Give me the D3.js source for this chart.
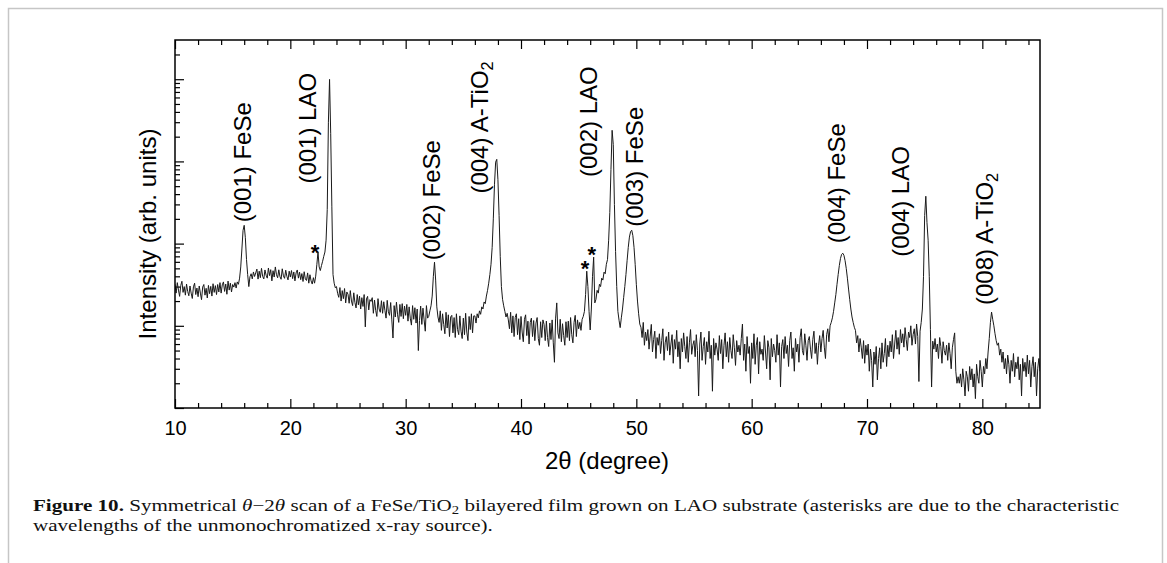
<!DOCTYPE html>
<html>
<head>
<meta charset="utf-8">
<script src="https://cdn.jsdelivr.net/npm/d3@7"></script>
<style>
body { margin: 0; background: #fff; }
svg { display: block; }
</style>
</head>
<body>
<svg id="chart" width="1167" height="563"></svg>
<script>
// scan grid (degrees 2theta) and counts, one row per degree
var scanStart = 10;
var scanStep = 0.1;
var intensity = [
  320, 250, 335, 272, 228, 310, 348, 255, 300, 236,
  322, 262, 232, 305, 250, 215, 298, 330, 240, 288,
  226, 305, 250, 208, 296, 318, 236, 286, 218, 310,
  246, 302, 230, 325, 255, 308, 240, 318, 258, 335,
  250, 315, 342, 262, 322, 242, 350, 272, 330, 258,
  318, 296, 335, 288, 342, 320, 380, 520, 860, 1450,
  1670, 1180, 640, 420, 300, 395, 430, 372, 452, 398,
  440, 490, 370, 462, 385, 500, 400, 372, 478, 412,
  380, 505, 408, 482, 352, 468, 392, 520, 418, 384,
  480, 396, 368, 494, 405, 378, 475, 400, 362, 462,
  392, 470, 375, 452, 352, 440, 478, 380, 450, 364,
  432, 346, 455, 372, 356, 440, 330, 418, 352, 322,
  385, 330, 402, 560, 790, 520, 470, 540, 610, 700,
  790, 1100, 2600, 30000, 99500, 22000, 2800, 420, 330, 290,
  300, 248, 222, 292, 200, 268, 214, 284, 190, 258,
  242, 188, 268, 200, 176, 252, 192, 165, 240, 180,
  230, 160, 220, 172, 240, 97, 212, 228, 156, 208,
  198, 220, 142, 206, 154, 130, 214, 160, 146, 202,
  142, 196, 154, 124, 204, 148, 134, 192, 118, 71,
  176, 128, 194, 136, 110, 182, 130, 186, 122, 174,
  134, 182, 114, 170, 124, 102, 176, 120, 166, 108,
  160, 50, 116, 174, 104, 164, 118, 86, 176, 124,
  130, 152, 175, 230, 400, 594, 360, 170, 128, 110,
  152, 88, 140, 104, 80, 146, 94, 136, 74, 128,
  134, 82, 126, 72, 140, 90, 78, 132, 86, 70,
  124, 78, 142, 84, 66, 130, 90, 140, 82, 132,
  132, 108, 140, 125, 152, 138, 170, 160, 195, 186,
  230, 270, 330, 420, 560, 900, 2000, 5200, 9800, 10600,
  6000, 2200, 700, 300, 210, 175, 150, 128, 142, 118,
  92, 146, 82, 132, 74, 126, 140, 78, 122, 68,
  130, 84, 64, 120, 136, 76, 114, 60, 110, 124,
  74, 116, 66, 108, 126, 70, 58, 112, 72, 118,
  104, 66, 114, 72, 56, 108, 68, 118, 62, 36,
  124, 190, 82, 70, 120, 64, 106, 76, 58, 112,
  72, 114, 66, 126, 78, 62, 110, 134, 74, 118,
  92, 110, 88, 120, 130, 150, 240, 462, 300, 150,
  89, 160, 400, 684, 190, 210, 270, 250, 320, 300,
  380, 360, 450, 430, 560, 640, 1100, 2400, 8000, 23900,
  16000, 3000, 800, 300, 150, 117, 95, 125, 160, 220,
  300, 420, 620, 900, 1200, 1400, 1455, 1250, 900, 560,
  320, 200, 140, 105, 96, 72, 110, 58, 84, 66,
  90, 52, 75, 104, 48, 68, 86, 40, 72, 58,
  80, 46, 66, 92, 38, 62, 74, 50, 84, 44,
  60, 78, 35, 68, 52, 88, 42, 64, 30, 70,
  48, 82, 56, 40, 74, 36, 62, 90, 45, 58,
  66, 42, 78, 50, 14, 60, 84, 38, 56, 72,
  34, 64, 48, 86, 40, 58, 16, 70, 44, 62,
  52, 38, 76, 46, 68, 30, 58, 82, 42, 64,
  36, 72, 50, 40, 78, 54, 33, 66, 48, 58,
  44, 70, 105, 38, 60, 28, 74, 46, 56, 20,
  62, 40, 80, 34, 58, 72, 26, 64, 45, 52,
  38, 76, 48, 30, 66, 54, 22, 70, 42, 60,
  50, 36, 78, 44, 62, 18, 56, 68, 40, 74,
  46, 58, 32, 66, 84, 40, 54, 28, 70, 48,
  60, 36, 72, 92, 50, 44, 80, 58, 38, 66,
  74, 52, 40, 68, 86, 46, 62, 34, 58, 76,
  48, 70, 88, 55, 40, 78, 92, 64, 100, 110,
  125, 150, 190, 240, 320, 420, 540, 660, 740, 764,
  720, 620, 500, 380, 280, 210, 160, 128, 110, 96,
  88, 62, 76, 48, 70, 55, 40, 66, 35, 58,
  44, 60, 28, 52, 38, 18, 48, 34, 56, 22,
  40, 54, 30, 62, 36, 46, 70, 32, 58, 42,
  65, 48, 78, 40, 60, 88, 52, 72, 45, 90,
  62, 80, 55, 95, 68, 50, 84, 72, 100, 58,
  78, 92, 60, 105, 74, 21, 86, 110, 160, 400,
  2200, 3770, 1800, 1100, 400, 90, 18, 65, 52, 70,
  48, 60, 40, 72, 56, 35, 64, 50, 44, 58,
  38, 62, 46, 30, 54, 68, 82, 28, 20, 24,
  20, 26, 18, 30, 22, 14, 28, 24, 16, 32,
  22, 30, 18, 26, 13, 34, 24, 20, 38, 28,
  18, 32, 26, 40, 30, 48, 70, 110, 147, 120,
  100, 80, 66, 58, 62, 44, 52, 36, 48, 30,
  40, 26, 44, 34, 20, 38, 28, 46, 24, 36,
  30, 42, 22, 34, 14, 40, 28, 36, 24, 44,
  26, 38, 18, 32, 42, 24, 36, 14, 30, 40,
  28
];

var xTickValues = [10, 20, 30, 40, 50, 60, 70, 80];
var yDecades = [10, 100, 1000, 10000, 100000];

// peak annotations: text, 2theta of the label, intensity where the text starts
var peakLabels = ["(001) FeSe", "(001) LAO", "(002) FeSe", "(004) A-TiO", "(002) LAO",
                  "(003) FeSe", "(004) FeSe", "(004) LAO", "(008) A-TiO"];
var peakLabelSub = ["", "", "", "2", "", "", "", "", "2"];
var peakLabelAt = [16.07, 21.7, 32.46, 36.6, 46.07, 50.06, 67.57, 73.08, 80.36];
var peakLabelFrom = [1820, 5370, 628, 4060, 6460, 1600, 1010, 690, 179];

// asterisks (characteristic lines of the source)
var starAt = [22.14, 45.55, 46.13];
var starLevel = [912, 573, 848];

var xTitle = "2\u03b8 (degree)";
var yTitle = "Intensity (arb. units)";

var WIDTH = 1167, HEIGHT = 563;
var MARGINS = {top: 40, right: 127, bottom: 155, left: 175};
var sans = '"Liberation Sans", Arial, sans-serif';

var svg = d3.select('#chart');

var x = d3.scaleLinear()
    .domain([10, 85])
    .range([MARGINS.left, WIDTH - MARGINS.right]);
var y = d3.scaleLog()
    .domain([10, 300000])
    .range([HEIGHT - MARGINS.bottom, MARGINS.top]);

var x0 = x.range()[0], x1 = x.range()[1];
var y0 = y.range()[0], y1 = y.range()[1];

// page border, open at the bottom
svg.append('path')
    .attr('d', 'M8.5,' + HEIGHT + 'V8.5H1162.5V' + HEIGHT)
    .attr('fill', 'none')
    .attr('stroke', '#c6c6c6')
    .attr('stroke-width', 1.5);

function styleAxis(g){
    g.select('.domain').remove();
    g.selectAll('.tick line').attr('stroke', '#000').attr('stroke-width', 1.2);
    g.selectAll('text').style('font-family', sans).style('font-size', '20px').attr('fill', '#000');
}

var minorX = d3.range(12, 85, 2).filter(function(d){ return d % 10 !== 0; });
var minorY = [];
yDecades.forEach(function(d){
    for(var k = 2; k <= 9; k++){
        if(d * k < y.domain()[1]) minorY.push(d * k);
    }
});

// bottom
svg.append('g').attr('transform', 'translate(0,' + y0 + ')')
    .call(d3.axisBottom(x).tickValues(xTickValues).tickSizeInner(-9).tickSizeOuter(0)
        .tickPadding(13).tickFormat(d3.format('d')))
    .call(styleAxis);
svg.append('g').attr('transform', 'translate(0,' + y0 + ')')
    .call(d3.axisBottom(x).tickValues(minorX).tickSizeInner(-5).tickSizeOuter(0).tickFormat(''))
    .call(styleAxis);
// top
svg.append('g').attr('transform', 'translate(0,' + y1 + ')')
    .call(d3.axisTop(x).tickValues(xTickValues).tickSizeInner(-9).tickSizeOuter(0).tickFormat(''))
    .call(styleAxis);
svg.append('g').attr('transform', 'translate(0,' + y1 + ')')
    .call(d3.axisTop(x).tickValues(minorX).tickSizeInner(-5).tickSizeOuter(0).tickFormat(''))
    .call(styleAxis);
// left (log, no labels)
svg.append('g').attr('transform', 'translate(' + x0 + ',0)')
    .call(d3.axisLeft(y).tickValues(yDecades).tickSizeInner(-9).tickSizeOuter(0).tickFormat(''))
    .call(styleAxis);
svg.append('g').attr('transform', 'translate(' + x0 + ',0)')
    .call(d3.axisLeft(y).tickValues(minorY).tickSizeInner(-5).tickSizeOuter(0).tickFormat(''))
    .call(styleAxis);

// the scan
var points = intensity.map(function(v, i){
    return {t: scanStart + i * scanStep, v: v};
});
var lineFunc = d3.line()
    .x(function(d){ return x(d.t); })
    .y(function(d){ return y(d.v); });

svg.append('clipPath').attr('id', 'plotClip')
  .append('rect').attr('x', x0).attr('y', y1).attr('width', x1 - x0).attr('height', y0 - y1);

svg.append('path')
    .attr('d', lineFunc(points))
    .attr('clip-path', 'url(#plotClip)')
    .attr('fill', 'none')
    .attr('stroke', '#1a1a1a')
    .attr('stroke-width', 1)
    .attr('stroke-linejoin', 'round');

// frame
svg.append('rect')
    .attr('x', x0).attr('y', y1)
    .attr('width', x1 - x0).attr('height', y0 - y1)
    .attr('fill', 'none')
    .attr('stroke', '#000')
    .attr('stroke-width', 1.5);

// peak labels
peakLabels.forEach(function(lab, i){
    var t = svg.append('text')
        .attr('transform', 'translate(' + x(peakLabelAt[i]) + ',' + y(peakLabelFrom[i]) + ') rotate(-90)')
        .attr('dy', '0.26em')
        .style('font-family', sans)
        .style('font-size', '24px')
        .attr('fill', '#000')
        .text(lab);
    if(peakLabelSub[i]){
        t.append('tspan')
            .attr('dy', '0.3em')
            .style('font-size', '0.68em')
            .text(peakLabelSub[i]);
    }
});

// asterisks
starAt.forEach(function(s, i){
    svg.append('text')
        .attr('x', x(s))
        .attr('y', y(starLevel[i]))
        .attr('dy', '0.58em')
        .attr('text-anchor', 'middle')
        .style('font-family', sans)
        .style('font-size', '22px')
        .style('font-weight', 'bold')
        .attr('fill', '#000')
        .text('*');
});

// axis titles
svg.append('text')
    .attr('x', (x0 + x1) / 2 - 0.5)
    .attr('y', y0 + 61)
    .attr('text-anchor', 'middle')
    .style('font-family', sans)
    .style('font-size', '24px')
    .attr('fill', '#000')
    .text(xTitle);

svg.append('text')
    .attr('transform', 'translate(149.5,' + ((y0 + y1) / 2 + 10) + ') rotate(-90)')
    .attr('dy', '0.26em')
    .attr('text-anchor', 'middle')
    .style('font-family', sans)
    .style('font-size', '24px')
    .attr('fill', '#000')
    .text(yTitle);

// caption, two lines; the face is a little wider than Times, so stretch it sideways
var serif = '"Liberation Serif", "Times New Roman", serif';
var capSize = 17.5;
var capG = svg.append('g').attr('transform', 'translate(33,0)');
var cap1 = capG.append('text')
    .attr('x', 0).attr('y', 511)
    .style('font-family', serif).style('font-size', capSize + 'px').attr('fill', '#111');
cap1.append('tspan').style('font-weight', 'bold').text('Figure 10.');
cap1.append('tspan').text(' Symmetrical ');
cap1.append('tspan').style('font-style', 'italic').text('\u03b8');
cap1.append('tspan').text('\u22122');
cap1.append('tspan').style('font-style', 'italic').text('\u03b8');
cap1.append('tspan').text(' scan of a FeSe/TiO');
cap1.append('tspan').attr('dy', '0.25em').style('font-size', '0.7em').text('2');
cap1.append('tspan').attr('dy', '-0.175em')
    .text(' bilayered film grown on LAO substrate (asterisks are due to the characteristic');

capG.append('text')
    .attr('x', 0).attr('y', 531)
    .style('font-family', serif).style('font-size', capSize + 'px').attr('fill', '#111')
    .text('wavelengths of the unmonochromatized x-ray source).');

var stretch = 1087 / cap1.node().getComputedTextLength();
capG.attr('transform', 'translate(33,0) scale(' + stretch + ',1)');
</script>
</body>
</html>
